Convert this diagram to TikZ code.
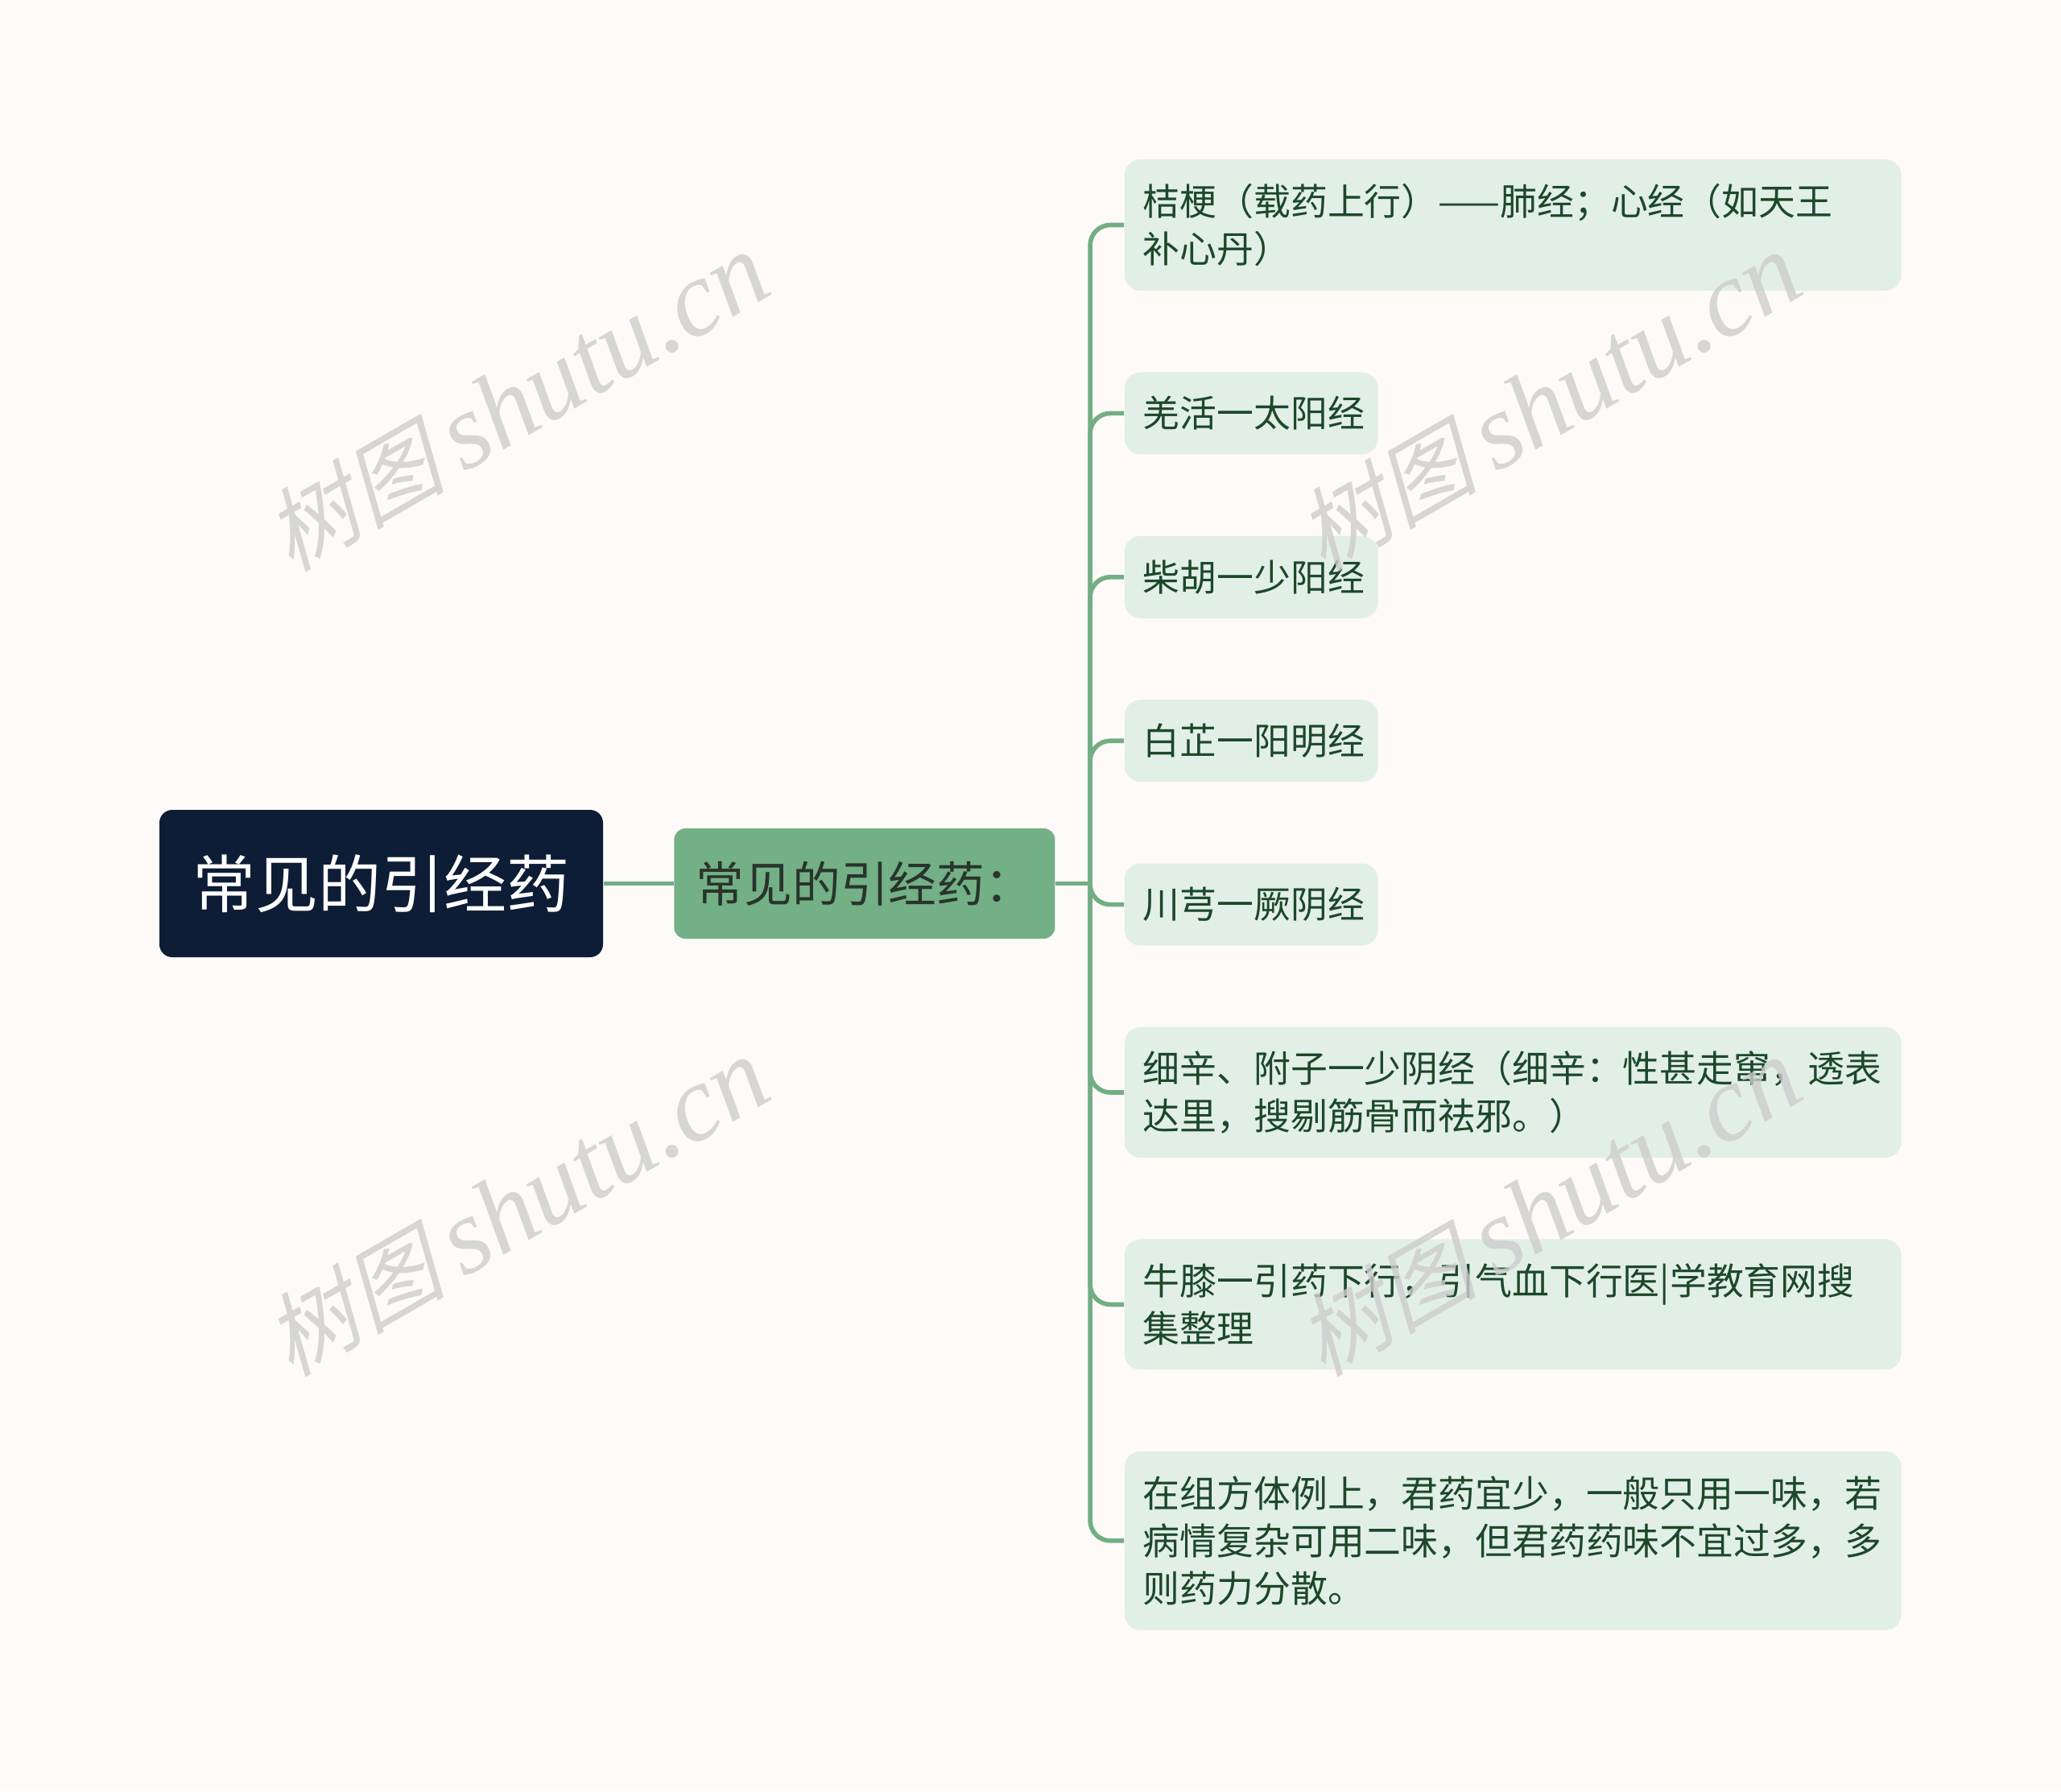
\documentclass[tikz,border=0pt]{standalone}
\usepackage{fontspec}
\setmainfont{Noto Sans CJK SC}
\newfontfamily\wmlatin{Liberation Serif}
\newfontfamily\wmcjk[FakeSlant=0.25]{Noto Sans CJK SC}
\usetikzlibrary{positioning}
\definecolor{bgcolor}{RGB}{253,250,248}
\definecolor{rootcolor}{RGB}{13,29,54}
\definecolor{midcolor}{RGB}{115,176,133}
\definecolor{midtext}{RGB}{40,52,44}
\definecolor{leafcolor}{RGB}{226,239,230}
\definecolor{leaftext}{RGB}{28,72,42}
\definecolor{linecolor}{RGB}{114,174,132}
\definecolor{wmcolor}{RGB}{205,205,205}

\begin{document}
\begin{tikzpicture}[
    y=-1cm,
    rootbox/.style={fill=rootcolor, text=white, rounded corners=0.16cm, minimum width=5.51cm, minimum height=1.83cm, font=\fontsize{22.2}{26}\selectfont},
    midbox/.style={fill=midcolor, text=midtext, rounded corners=0.14cm, minimum width=4.73cm, minimum height=1.37cm, font=\fontsize{17}{20}\selectfont},
    leaf/.style={fill=leafcolor, text=leaftext, rounded corners=0.2cm, align=left, text width=2.69cm, inner xsep=0.23cm, inner ysep=0.1cm, minimum height=1.02cm, font=\fontsize{13.05}{16.8}\selectfont},
    wideleaf/.style={leaf, text width=9.19cm},
    branch/.style={draw=linecolor, line width=1.6pt, rounded corners=0.25cm},
    watermark/.style={text=wmcolor, opacity=0.8, rotate=30, font=\fontsize{38}{40}\selectfont}
]
    \fill[bgcolor] (0,0) rectangle (25.6,22.25);

    \node[rootbox] (root) at (4.735,10.975) {常见的引经药};
    \node[midbox, right=0.87cm of root] (mid) {常见的引经药：};
    \coordinate[right=0.43cm of mid.east] (hub);

    \node[wideleaf, anchor=west, minimum height=1.63cm] (l1) at (13.96,2.795) {桔梗（载药上行）——肺经；心经（如天王\\补心丹）};
    \node[leaf, below=1.0cm of l1.south west, anchor=north west] (l2) {羌活一太阳经};
    \node[leaf, below=1.0cm of l2.south west, anchor=north west] (l3) {柴胡一少阳经};
    \node[leaf, below=1.0cm of l3.south west, anchor=north west] (l4) {白芷一阳明经};
    \node[leaf, below=1.0cm of l4.south west, anchor=north west] (l5) {川芎一厥阴经};
    \node[wideleaf, minimum height=1.62cm, below=1.0cm of l5.south west, anchor=north west] (l6) {细辛、附子一少阴经（细辛：性甚走窜，透表\\达里，搜剔筋骨而祛邪。）};
    \node[wideleaf, minimum height=1.62cm, below=1.0cm of l6.south west, anchor=north west] (l7) {牛膝一引药下行，引气血下行医|学教育网搜\\集整理};
    \node[wideleaf, minimum height=2.22cm, below=1.0cm of l7.south west, anchor=north west] (l8) {在组方体例上，君药宜少，一般只用一味，若\\病情复杂可用二味，但君药药味不宜过多，多\\则药力分散。};

    % connectors
    \draw[branch] (root) -- (mid);
    \draw[branch] (mid.east) -- (hub);
    \foreach \n in {l1,l2,l3,l4,l5,l6,l7,l8}
        \draw[branch] (hub) |- (\n.west);

    % watermarks
    \node[watermark] (wm1) at (6.42,5.0) {{\wmcjk\fontsize{32}{34}\selectfont 树图}\,{\wmlatin\itshape shutu.cn}};
    \node[watermark] (wm2) at (19.24,5.0) {{\wmcjk\fontsize{32}{34}\selectfont 树图}\,{\wmlatin\itshape shutu.cn}};
    \node[watermark] (wm3) at (6.42,15.0) {{\wmcjk\fontsize{32}{34}\selectfont 树图}\,{\wmlatin\itshape shutu.cn}};
    \node[watermark] (wm4) at (19.24,15.0) {{\wmcjk\fontsize{32}{34}\selectfont 树图}\,{\wmlatin\itshape shutu.cn}};
\end{tikzpicture}
\end{document}
